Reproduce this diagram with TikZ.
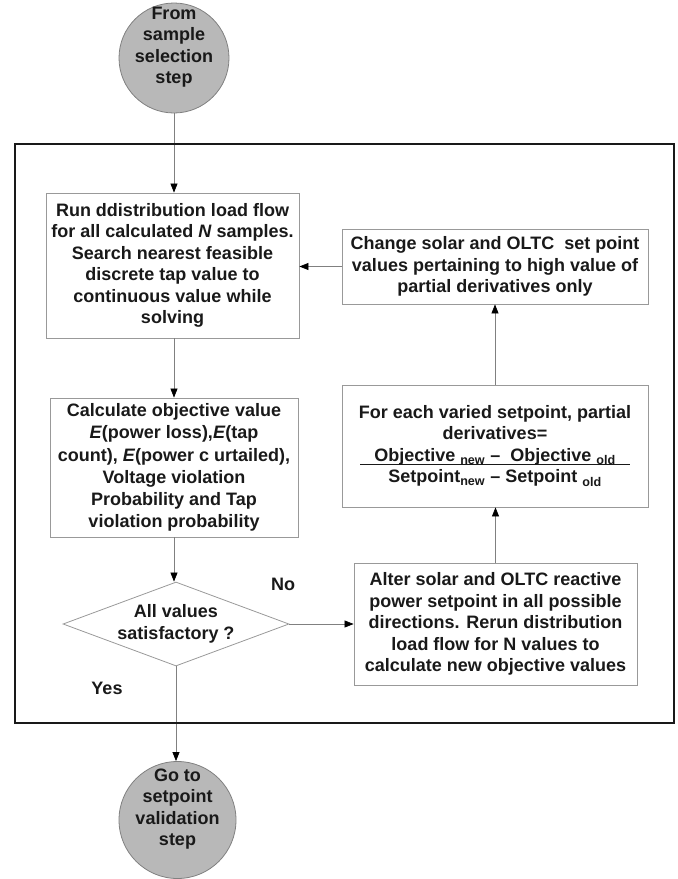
\documentclass[tikz,border=0pt]{standalone}
\usepackage{fontspec}
\setmainfont{Liberation Sans}
\usetikzlibrary{arrows.meta,shapes.geometric}
\begin{document}
\begin{tikzpicture}[x=1pt,y=-1pt,
  txt/.style={font=\bfseries\fontsize{18}{21.5}\selectfont, text=black!90, align=center},
  box/.style={txt, draw=black!40, line width=0.8pt, rectangle, inner sep=0pt},
  term/.style={circle, draw=black!50, fill=black!28, line width=0.8pt, minimum size=#1, inner sep=0pt},
  dec/.style={diamond, draw=black!40, line width=0.8pt, inner sep=0pt},
  conn/.style={draw=black!50, line width=0.7pt, -{Triangle[length=9pt,width=7pt,color=black]}},
  frame/.style={draw=black!90, line width=2.2pt, rectangle, inner sep=0pt}
  ]
\useasboundingbox (0,0) rectangle (678,879);

% terminals
\node[term=110, label={[txt, yshift=11pt]center:From\\sample\\selection\\step}] (start) at (174,58) {};
\node[term=117, label={[txt, yshift=11pt]center:Go to\\setpoint\\validation\\step}] (end) at (177.5,820) {};

% left column
\node[box, minimum width=253, minimum height=145] (run) at (172.5,265.5)
  {Run ddistribution load flow\\for all calculated \textit{N} samples.\\Search nearest feasible\\discrete tap value to\\continuous value while\\solving};
\node[box, minimum width=248, minimum height=139, font=\bfseries\fontsize{18}{22.3}\selectfont] (calc) at (174,467.5)
  {Calculate objective value\\\textit{E}(power loss),\textit{E}(tap\\count), \textit{E}(power c urtailed),\\Voltage violation\\Probability and Tap\\violation probability};
\node[dec, minimum width=226, minimum height=84,
  label={[txt]center:All values\\satisfactory ?}] (dia) at (176,624) {};

% right column
\node[box, minimum width=306, minimum height=75] (change) at (495,266.5)
  {Change solar and OLTC\ \ set point\\values pertaining to high value of\\partial derivatives only};
\node[box, minimum width=306, minimum height=122] (deriv) at (495,446)
  {For each varied setpoint, partial\\derivatives=\\
   \makebox[270pt][c]{Objective \textsubscript{new} –\ \ Objective \textsubscript{old}}\llap{\rule[-3.5pt]{270pt}{1.3pt}}\\
   Setpoint\textsubscript{new} – Setpoint \textsubscript{old}};
\node[box, minimum width=283, minimum height=122] (alter) at (495.5,624)
  {Alter solar and OLTC reactive\\power setpoint in all possible\\directions. Rerun distribution\\load flow for N values to\\calculate new objective values};

% labels
\node[txt] (no) at (283,584) {No};
\node[txt] (yes) at (107,688) {Yes};

% connectors
\draw[conn] (start.south) -- (start.south |- run.north);
\draw[conn] (calc.north |- run.south) -- (calc.north);
\draw[conn] (calc.south) -- (calc.south |- dia.north);
\draw[conn] (dia.south) -- (dia.south |- end.north);
\draw[conn] (dia.east) -- (alter.west);
\draw[conn] (alter.north) -- (alter.north |- deriv.south);
\draw[conn] (deriv.north) -- (change.south);
\draw[conn] (change.west) -- (change.west -| run.east);

% frame
\node[frame, minimum width=659, minimum height=579] (frm) at (344.5,433.5) {};
\end{tikzpicture}
\end{document}
